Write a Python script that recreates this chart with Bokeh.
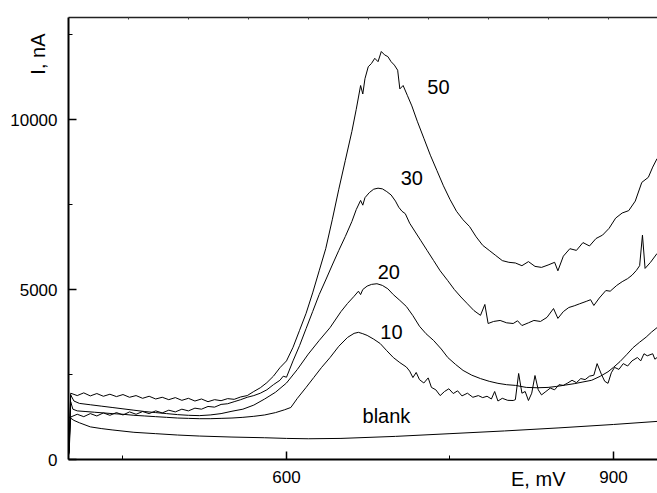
from bokeh.plotting import figure
from bokeh.models import FixedTicker, LinearAxis, ColumnDataSource, Range1d
from bokeh.core.properties import value
from bokeh.embed import file_html
from bokeh.resources import INLINE

# ---- data (E in mV, I in nA) ----
E50 = [400.5, 402, 408, 414, 420, 426, 432, 438, 444, 450, 456, 462, 468, 474, 480, 486, 492, 498,
       504, 510, 516, 522, 528, 534, 540, 546, 552, 558, 564, 570, 576, 582, 588, 594, 600, 606, 612,
       618, 624, 630, 636, 642, 648, 654, 660, 664, 668, 670, 672, 675, 678, 681, 684, 687, 690, 693,
       696, 699, 702, 704, 707, 711, 715, 720, 726, 732, 738, 744, 750, 756, 762, 768, 774, 780, 786,
       792, 798, 804, 810, 816, 822, 828, 834, 840, 846, 849, 854, 860, 866, 872, 878, 884, 890, 896,
       902, 908, 914, 920, 926, 932, 936, 940]
I50 = [200, 1950, 1880, 1960, 1870, 1940, 1860, 1920, 1850, 1910, 1830, 1880, 1800, 1860, 1780, 1830,
       1760, 1820, 1740, 1800, 1720, 1780, 1700, 1760, 1730, 1790, 1770, 1840, 1880, 2000, 2110, 2260,
       2450, 2700, 2900, 3300, 3800, 4300, 4900, 5550, 6200, 7050, 7950, 8800, 9650, 10300, 11000,
       10750, 11200, 11550, 11650, 11800, 11700, 12000, 11900, 11850, 11700, 11600, 11450, 10900,
       11000, 10700, 10400, 9950, 9450, 8950, 8500, 8050, 7650, 7300, 7050, 6850, 6550, 6300, 6150,
       6000, 5850, 5800, 5780, 5700, 5820, 5680, 5650, 5720, 5800, 5550, 5980, 6200, 6150, 6380, 6280,
       6500, 6600, 6800, 7100, 7250, 7320, 7600, 8150, 8300, 8600, 8850]

E30 = [400.5, 402, 408, 414, 420, 426, 432, 438, 444, 450, 456, 462, 468, 474, 480, 486, 492, 498,
       504, 510, 516, 522, 528, 534, 540, 546, 552, 558, 564, 570, 576, 582, 588, 594, 597, 600, 606,
       612, 618, 624, 630, 636, 642, 648, 654, 660, 664, 668, 670, 672, 676, 680, 684, 688, 692, 696,
       700, 703, 706, 709, 713, 717, 723, 729, 735, 741, 748, 754, 760, 766, 772, 778, 782, 785, 790,
       796, 802, 808, 812, 816, 822, 827, 833, 839, 845, 849, 854, 859, 864, 869, 875, 879, 882, 887,
       893, 897, 903, 908, 913, 917, 921, 924, 926.6, 929, 934, 940]
I30 = [150, 1250, 1330, 1260, 1350, 1280, 1370, 1300, 1380, 1310, 1400, 1330, 1410, 1350, 1430, 1370,
       1450, 1400, 1480, 1430, 1510, 1480, 1560, 1540, 1620, 1640, 1700, 1760, 1830, 1880, 1950, 2050,
       2200, 2330, 2450, 2420, 2900, 3350, 3850, 4350, 4850, 5280, 5720, 6150, 6560, 7000, 7350, 7620,
       7480, 7700, 7850, 7950, 7980, 7960, 7880, 7780, 7600, 7420, 7300, 7230, 6950, 6750, 6450, 6150,
       5850, 5550, 5260, 5000, 4780, 4580, 4380, 4240, 4560, 4000, 4060, 4090, 4020, 4000, 4080, 3940,
       4020, 4090, 4060, 4180, 4440, 4150, 4350, 4470, 4520, 4580, 4650, 4700, 4530, 4750, 4970, 4950,
       5120, 5230, 5320, 5420, 5560, 5700, 6600, 5620, 5800, 6060]

E20 = [400.5, 402, 405, 410, 420, 430, 440, 450, 460, 470, 480, 490, 500, 510, 520, 530, 540, 550,
       560, 570, 580, 590, 600, 610, 620, 630, 640, 650, 656, 662, 666, 668, 670, 674, 678, 683, 688,
       693, 698, 704, 710, 716, 722, 728, 735, 742, 748, 755, 762, 770, 778, 786, 794, 802, 810, 820,
       830, 840, 848, 856, 864, 872, 880, 888, 895, 900, 906, 912, 918, 924, 930, 935, 940]
I20 = [250, 1900, 1720, 1650, 1610, 1570, 1530, 1490, 1450, 1410, 1380, 1350, 1320, 1300, 1290, 1310,
       1350, 1420, 1480, 1600, 1780, 1980, 2250, 2650, 3100, 3500, 3880, 4350, 4590, 4800, 4950, 4850,
       5000, 5100, 5150, 5170, 5120, 5020, 4850, 4680, 4500, 4230, 3920, 3700, 3500, 3250, 3000, 2800,
       2620, 2480, 2380, 2300, 2240, 2200, 2180, 2120, 2110, 2120, 2150, 2190, 2230, 2280, 2330, 2450,
       2580, 2710, 2880, 3080, 3290, 3450, 3600, 3750, 3880]

E10 = [400.5, 402, 404, 408, 416, 424, 432, 440, 450, 460, 470, 480, 490, 500, 510, 520, 530, 540,
       550, 560, 570, 580, 590, 598, 604, 610, 618, 625, 632, 640, 648, 656, 662, 666, 670, 674, 680,
       686, 692, 698, 704, 710, 713, 716, 719, 722, 726, 730, 733, 737, 741, 745, 749, 753, 757, 761,
       766, 771, 776, 780, 784, 788, 791, 794, 798, 803, 808, 810, 813, 816, 819, 822, 825, 828, 831,
       834, 838, 842, 846, 850, 854, 858, 862, 866, 870, 874, 878, 882, 885, 889, 892, 895, 898, 901,
       905, 909, 913, 917, 922, 925, 928, 931, 936, 938, 940]
I10 = [200, 1700, 1480, 1430, 1410, 1390, 1370, 1350, 1330, 1300, 1280, 1260, 1240, 1220, 1210, 1200,
       1200, 1210, 1220, 1240, 1270, 1310, 1380, 1460, 1530, 1800, 2120, 2410, 2700, 3000, 3330, 3590,
       3710, 3740, 3700, 3650, 3540, 3410, 3200, 3000, 2850, 2720, 2600, 2410, 2560, 2350, 2250, 2400,
       2120, 2050, 1880, 2000, 2080, 1940, 2020, 1870, 1950, 1830, 1880, 1820, 1860, 1780, 2000, 1720,
       1800, 1740, 1735, 1760, 2530, 1950, 2000, 1735, 1950, 2470, 2050, 1900, 2000, 2100, 2050, 2200,
       2180, 2250, 2330, 2260, 2380, 2350, 2450, 2480, 2820, 2500, 2300, 2240, 2550, 2710, 2650, 2820,
       2750, 2900, 3000, 2900, 3110, 3050, 3110, 2950, 3000]

Eb = [400.5, 405, 410, 420, 430, 440, 460, 480, 500, 520, 550, 580, 600, 620, 650, 700, 750, 800,
      850, 900, 940]
Ib = [1250, 1150, 1080, 960, 910, 870, 800, 760, 720, 690, 660, 640, 620, 610, 620, 680, 760, 840,
      930, 1030, 1120]

curve_names = ["50", "30", "20", "10", "blank"]
label_E = [739.4, 715.0, 693.9, 696.3, 691.7]
label_I = [10970, 8265, 5520, 3755, 1290]

x_major = [600, 900]
x_minor = [450, 750]
y_major = [0, 5000, 10000]
y_minor = [2500, 7500, 12500]
top_ticks = [455.0, 510.1, 565.1, 620.2, 675.2, 730.3, 785.3, 840.4, 895.4]

x_title = "E, mV"
y_title = "I, nA"
x_title_at = 831      # E position of the x title
y_title_at = 11925    # I position of the y title

FONT = "Liberation Sans"

p = figure(width=657, height=493, output_backend="svg", toolbar_location=None,
           x_range=Range1d(400, 940.4), y_range=Range1d(0, 13000),
           min_border_left=68, min_border_right=0, min_border_top=17, min_border_bottom=34)
p.outline_line_color = None
p.xgrid.visible = False
p.ygrid.visible = False
p.background_fill_color = "white"
p.border_fill_color = "white"

for ax, maj, mnr in ((p.xaxis[0], x_major, x_minor), (p.yaxis[0], y_major, y_minor)):
    ax.ticker = FixedTicker(ticks=maj, minor_ticks=mnr)
    ax.axis_line_width = 2
    ax.axis_line_color = "black"
    ax.major_tick_in = 8
    ax.major_tick_out = 0
    ax.minor_tick_in = 4
    ax.minor_tick_out = 0
    ax.major_tick_line_width = 1.5
    ax.minor_tick_line_width = 1
    ax.major_tick_line_color = "black"
    ax.minor_tick_line_color = "black"
    ax.major_label_text_font = FONT
    ax.major_label_text_font_size = "17px"
    ax.major_label_text_color = "black"
p.xaxis[0].major_label_standoff = 11
p.yaxis[0].major_label_standoff = 11

# top frame line with tiny ticks
top = LinearAxis(ticker=FixedTicker(ticks=top_ticks, minor_ticks=[]),
                 axis_line_width=1.5, axis_line_color="#222222",
                 major_tick_in=2, major_tick_out=0, minor_tick_in=0, minor_tick_out=0,
                 major_tick_line_color="#444444", major_label_text_color=None,
                 major_label_text_font_size="8px", major_label_standoff=0)
p.add_layout(top, "above")


def title_axis(tick, text, standoff, orientation):
    return LinearAxis(ticker=FixedTicker(ticks=[tick], minor_ticks=[]),
                      major_label_overrides={tick: text},
                      axis_line_color=None, major_tick_line_color=None,
                      minor_tick_line_color=None, major_tick_in=0, major_tick_out=0,
                      minor_tick_in=0, minor_tick_out=0,
                      major_label_standoff=standoff, major_label_orientation=orientation,
                      major_label_text_font=FONT, major_label_text_font_size="20px",
                      major_label_text_color="black")


# axis titles: label-only axes stacked outside the main axes
p.add_layout(title_axis(y_title_at, y_title, -42, "parallel"), "left")
p.add_layout(title_axis(x_title_at, x_title, -18, "horizontal"), "below")

for E, I in ((Eb, Ib), (E10, I10), (E20, I20), (E30, I30), (E50, I50)):
    p.line(E, I, line_color="black", line_width=1)

src = ColumnDataSource(dict(x=label_E, y=label_I, t=curve_names))
p.text(x="x", y="y", text="t", source=src, text_font=value(FONT), text_font_size="20px",
       text_align="center", text_baseline="alphabetic", text_color="black")

open("out.html", "w").write(file_html(p, INLINE))
